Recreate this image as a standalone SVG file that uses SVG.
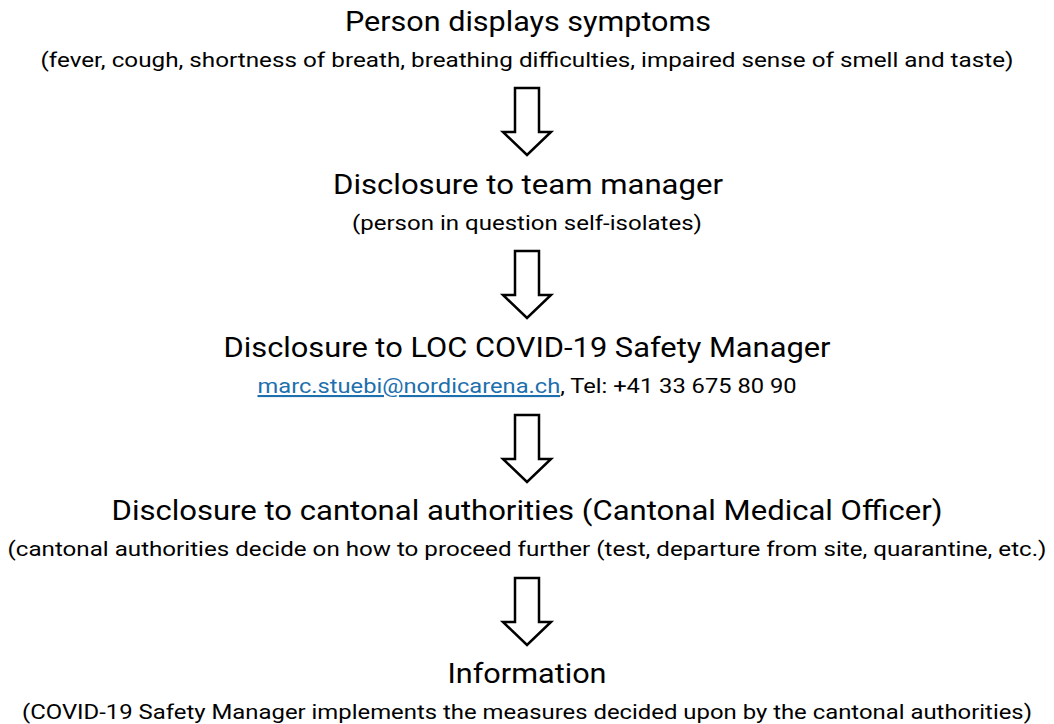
<svg xmlns="http://www.w3.org/2000/svg" width="1054" height="724" viewBox="0 0 1054 724">
<defs>
<style>
.t{font-family:Roboto,"Liberation Sans",sans-serif;font-size:27px;fill:#000;text-anchor:middle}
.s{font-family:Roboto,"Liberation Sans",sans-serif;font-size:21px;fill:#000;text-anchor:middle}
.a{fill:#fff;stroke:#000;stroke-width:2.5;stroke-linejoin:miter}
.l{fill:#1d6fae;text-decoration:underline}
</style>
<path id="arr" d="M515,88 H539 V132 H551 L527,155 L503,132 H515 Z"/>
</defs>
<rect width="1054" height="724" fill="#fff"/>
<g id="n1">
<text class="t" x="528" y="31" textLength="366" lengthAdjust="spacingAndGlyphs">Person displays symptoms</text>
<text class="s" x="527" y="67" textLength="973" lengthAdjust="spacingAndGlyphs">(fever, cough, shortness of breath, breathing difficulties, impaired sense of smell and taste)</text>
</g>
<g id="n2">
<text class="t" x="528" y="194" textLength="390" lengthAdjust="spacingAndGlyphs">Disclosure to team manager</text>
<text class="s" x="527" y="230" textLength="350" lengthAdjust="spacingAndGlyphs">(person in question self-isolates)</text>
</g>
<g id="n3">
<text class="t" x="527" y="357" textLength="607" lengthAdjust="spacingAndGlyphs">Disclosure to LOC COVID-19 Safety Manager</text>
<text class="s" x="527" y="393" textLength="539" lengthAdjust="spacingAndGlyphs"><tspan class="l">marc.stuebi@nordicarena.ch</tspan>, Tel: +41 33 675 80 90</text>
</g>
<g id="n4">
<text class="t" x="527" y="520" textLength="831" lengthAdjust="spacingAndGlyphs">Disclosure to cantonal authorities (Cantonal Medical Officer)</text>
<text class="s" x="527" y="556" textLength="1039" lengthAdjust="spacingAndGlyphs">(cantonal authorities decide on how to proceed further (test, departure from site, quarantine, etc.)</text>
</g>
<g id="n5">
<text class="t" x="527" y="683" textLength="159" lengthAdjust="spacingAndGlyphs">Information</text>
<text class="s" x="527" y="719" textLength="1010" lengthAdjust="spacingAndGlyphs">(COVID-19 Safety Manager implements the measures decided upon by the cantonal authorities)</text>
</g>
<g id="connectors">
<use href="#arr" class="a"/>
<use href="#arr" class="a" transform="translate(0,163)"/>
<use href="#arr" class="a" transform="translate(0,327)"/>
<use href="#arr" class="a" transform="translate(0,490)"/>
</g>
</svg>
